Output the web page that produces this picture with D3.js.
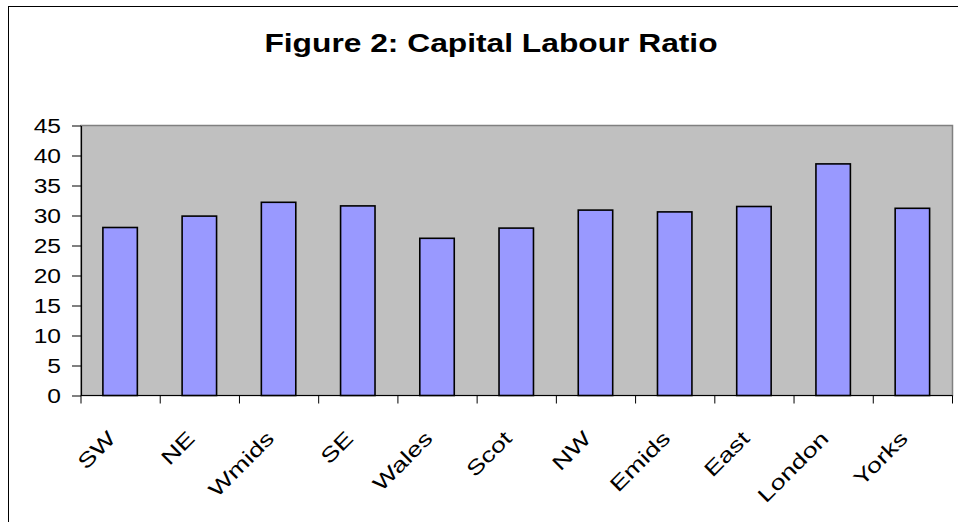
<!DOCTYPE html>
<html>
<head>
<meta charset="utf-8">
<script src="https://cdn.jsdelivr.net/npm/d3@7"></script>
<style>
  body { margin: 0; background: #fff; }
  svg { display: block; font-family: "Liberation Sans", Arial, sans-serif; }
</style>
</head>
<body>
<div id="chart"></div>
<script>
// Data
const regions = ["SW", "NE", "Wmids", "SE", "Wales", "Scot", "NW", "Emids", "East", "London", "Yorks"];
const ratios = [28.0, 29.9, 32.2, 31.6, 26.2, 27.9, 30.9, 30.6, 31.5, 38.6, 31.2];
const yTicks = [0, 5, 10, 15, 20, 25, 30, 35, 40, 45];

const data = regions.map((r, i) => ({ region: r, value: ratios[i] }));

// Chart dimensions
const width = 958, height = 522;
const plot = { left: 81, right: 952.5, top: 125.5, bottom: 395.5 };
const stretch = 1.26; // the original chart's text is stretched horizontally

const svg = d3.select("#chart")
    .append("svg")
    .attr("width", width)
    .attr("height", height);

// Outer chart border
svg.append("rect")
    .attr("x", 8.5)
    .attr("y", 6.5)
    .attr("width", 960)
    .attr("height", 530)
    .attr("fill", "#fff")
    .attr("stroke", "#000")
    .attr("stroke-width", 1);

// Scales
const x = d3.scaleBand()
    .domain(regions)
    .range([plot.left, plot.right])
    .padding(0);

const y = d3.scaleLinear()
    .domain([0, 45])
    .range([plot.bottom, plot.top]);

// Plot area
svg.append("rect")
    .attr("x", plot.left)
    .attr("y", plot.top)
    .attr("width", plot.right - plot.left)
    .attr("height", plot.bottom - plot.top)
    .attr("fill", "#c0c0c0")
    .attr("stroke", "#808080")
    .attr("stroke-width", 1.5);

// Bars (gap width 130%)
const barW = x.bandwidth() / 2.3;
svg.append("g")
    .selectAll("rect")
    .data(data)
    .enter()
    .append("rect")
    .attr("x", d => x(d.region) + (x.bandwidth() - barW) / 2 - 0.5)
    .attr("y", d => y(d.value))
    .attr("width", barW)
    .attr("height", d => y(0) - y(d.value))
    .attr("fill", "#9999ff")
    .attr("stroke", "#000")
    .attr("stroke-width", 1.6);

// Y axis
const yAxis = svg.append("g")
    .attr("transform", `translate(${plot.left},0)`)
    .call(d3.axisLeft(y).tickValues(yTicks).tickSize(9).tickSizeOuter(0));
yAxis.select(".domain").attr("stroke", "#000").attr("stroke-width", 1.2);
yAxis.selectAll(".tick line").attr("stroke", "#000");
yAxis.selectAll(".tick text").remove();
yAxis.selectAll(".tick")
    .append("text")
    .attr("transform", `translate(-20,0) scale(${stretch},1)`)
    .attr("dy", "0.36em")
    .attr("text-anchor", "end")
    .attr("fill", "#000")
    .style("font-size", "19.5px")
    .text(d => d);

// X axis: ticks at category boundaries
const boundaries = regions.map(r => x(r)).concat([plot.right]);
const xAxis = svg.append("g");
xAxis.append("line")
    .attr("x1", plot.left)
    .attr("x2", plot.right)
    .attr("y1", plot.bottom)
    .attr("y2", plot.bottom)
    .attr("stroke", "#000")
    .attr("stroke-width", 1.2);
xAxis.selectAll(".xtick")
    .data(boundaries)
    .enter()
    .append("line")
    .attr("x1", d => d)
    .attr("x2", d => d)
    .attr("y1", plot.bottom)
    .attr("y2", plot.bottom + 8)
    .attr("stroke", "#000");

// Category labels, rotated 45 degrees, text itself stretched along its line
xAxis.selectAll(".xlabel")
    .data(regions)
    .enter()
    .append("text")
    .attr("transform", d => `translate(${x(d) + x.bandwidth() / 2 - 14},${plot.bottom + 34}) rotate(-45) scale(1.32,1)`)
    .attr("text-anchor", "end")
    .attr("dy", "0.71em")
    .attr("fill", "#000")
    .style("font-size", "20.5px")
    .text(d => d);

// Title
svg.append("text")
    .attr("transform", `translate(491,52) scale(1.27,1)`)
    .attr("text-anchor", "middle")
    .style("font-size", "25px")
    .style("font-weight", "bold")
    .text("Figure 2: Capital Labour Ratio");
</script>
</body>
</html>
